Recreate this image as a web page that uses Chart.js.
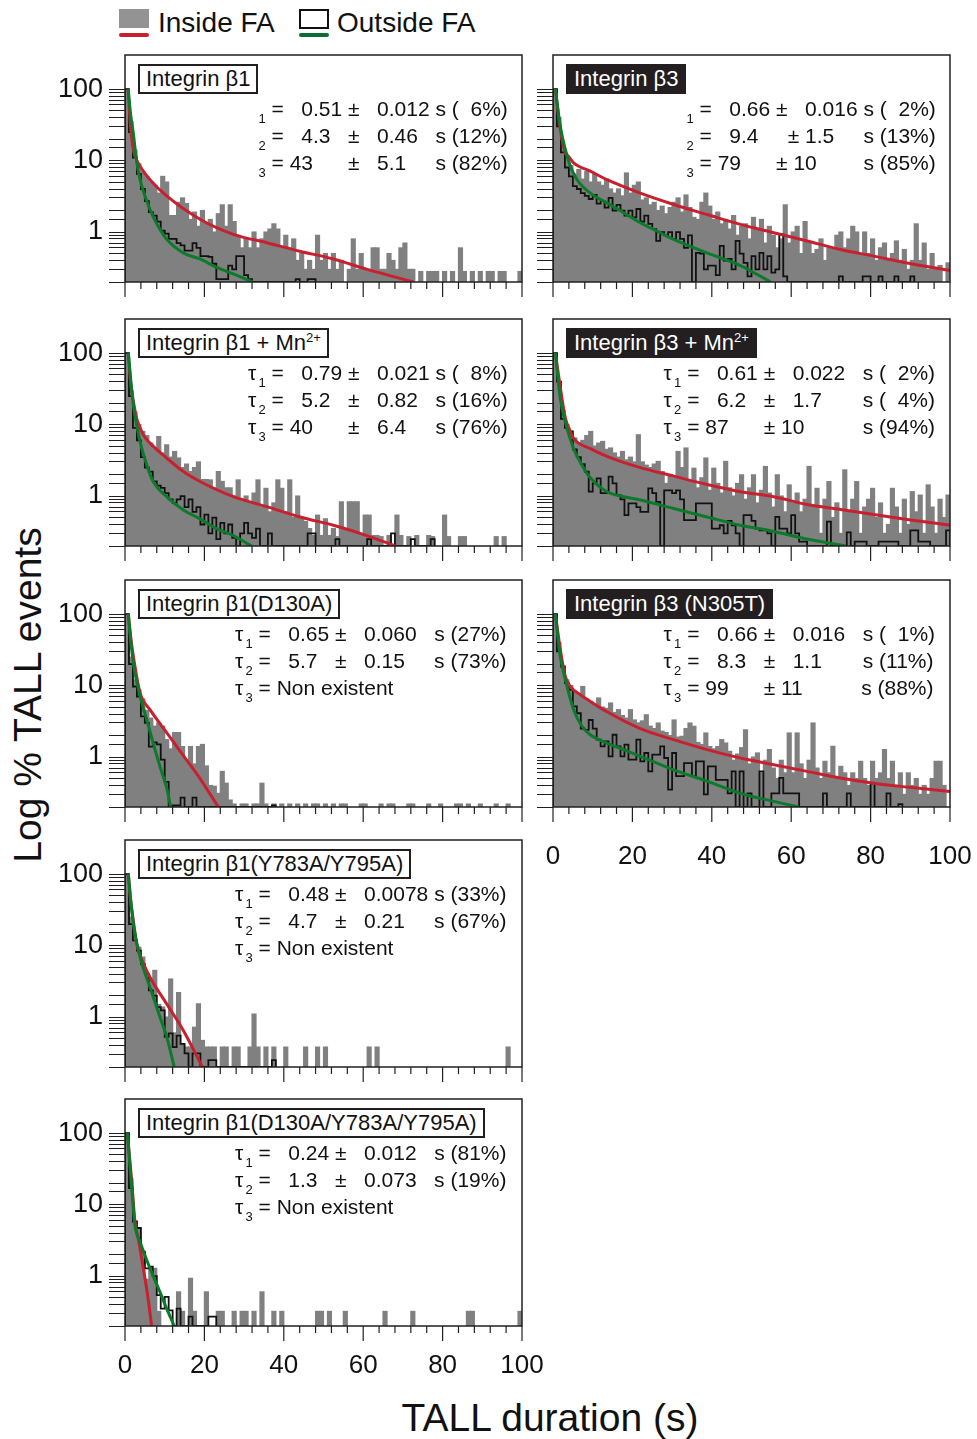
<!DOCTYPE html>
<html>
<head>
<meta charset="utf-8">
<title>TALL duration histograms</title>
<script src="https://cdn.jsdelivr.net/npm/chart.js@4.4.1/dist/chart.umd.min.js"></script>
<style>
  html, body { margin: 0; padding: 0; background: #fff; }
  body { position: relative; width: 977px; height: 1439px; overflow: hidden;
         font-family: Arial, "Liberation Sans", Helvetica, sans-serif; color: #111; }
  canvas { position: absolute; }
  .abs { position: absolute; white-space: nowrap; }
  .tag { position: absolute; box-sizing: border-box; height: 30px; padding: 0 6px;
         border: 2px solid #231f20; background: #fff; font-size: 22px; line-height: 26px; white-space: nowrap; }
  .tag.dark { background: #231f20; color: #fff; }
  .tag sup { font-size: 13px; vertical-align: 8px; line-height: 0; }
  .stats { position: absolute; font-size: 21px; line-height: 27px; white-space: pre; }
  .stats .tau { display: inline-block; width: 10.5px; }
  .stats sub { font-size: 13px; vertical-align: -7px; line-height: 0; }
</style>
</head>
<body>
<!-- legend -->
<div class="abs" style="left:119px;top:9px;width:30px;height:19px;background:#939393"></div>
<div class="abs" style="left:119px;top:33px;width:30px;height:4px;border-radius:2px;background:#c8202f"></div>
<div class="abs" style="left:158px;top:7px;font-size:28px;line-height:32px">Inside FA</div>
<div class="abs" style="left:299px;top:9px;width:30px;height:20px;box-sizing:border-box;border:2px solid #111"></div>
<div class="abs" style="left:299px;top:33px;width:30px;height:4px;border-radius:2px;background:#0a6e32"></div>
<div class="abs" style="left:337px;top:7px;font-size:28px;line-height:32px">Outside FA</div>
<!-- axis titles -->
<div class="abs" style="left:-172px;top:673px;width:400px;height:44px;line-height:44px;text-align:center;font-size:39px;transform:rotate(-90deg)">Log % TALL events</div>
<div class="abs" style="left:350px;top:1396px;width:400px;height:44px;line-height:44px;text-align:center;font-size:39px">TALL duration (s)</div>

<script>
// ---- values: % of events per 1 s bin (log axis), fits as [s, %] points ----
const yMin = 0.2, yMax = 300;

// Integrin β1
const b1In = [100,35,14,9,7,6,5,4.5,3.5,6, 5,1.7,1.7,2.6,3,2.5,1.5,1.9,1.2,2, 1.3,1.5,1,1.8,2.4,1.2,2.4,1.4,0.9,0.6,
  0.8,0.6,1,0.6,0.8,1,1.1,1.3,1.1,0.6, 0.9,0.6,0.8,0.4,0.5,0.3,0.4,0.3,0.9,0.4, 0.5,0.3,0.5,0.3,0.4,0,0.3,0.8,0.3,0.5,
  0.3,0.3,0.6,0.6,0.3,0.3,0.5,0.4,0.3,0.6, 0.7,0.3,0.3,0,0.28,0,0.28,0.28,0.28,0, 0.28,0,0.28,0,0.6,0.28,0,0.28,0,0.28,
  0,0.28,0.28,0,0.28,0.28,0,0,0,0.28];
const b1Out = [100,25,11,6.5,4,2.7,1.9,1.7,1.4,1.05, 0.95,0.8,0.8,0.7,0.65,0.55,0.55,0.7,0.6,0.46,
  0.46,0.45,0.36,0.22,0.22,0.22,0.34,0.3,0.46,0.46, 0.25,0.22,0,0,0,0,0,0,0,0, 0,0,0,0.22,0,0,0.22,0.22];
const b1FitIn = [[0.8,100],[1.4,30],[2.1,14.3],[2.9,10.3],[4,8],[6.3,5.4],[10.5,3.2],[19,1.5],[27.3,0.93],
  [35.7,0.71],[44,0.54],[52.5,0.42],[61,0.3],[72.7,0.2]];
const b1FitOut = [[0.8,100],[1.4,45],[2.1,24],[2.9,10],[3.8,5.4],[6.3,2.07],[8.8,1.09],[10.5,0.79],[14.7,0.51],
  [18.9,0.42],[23.1,0.32],[27.3,0.26],[32.2,0.2]];
const b1Stats = [' =   0.51 ±   0.012 s (  6%)', ' =   4.3   ±   0.46   s (12%)', ' = 43      ±   5.1     s (82%)'];

// Integrin β3
const b3In = [100,40,16,11,8.5,6.5,7.5,5.5,7,5, 6.5,5,4.5,5.5,4,3.5,4,3.2,6.7,3.5, 4.5,5,2.8,3,2.4,2.6,2,2.3,1.8,2.2,
  2.6,3,1.9,3.3,2.2,1.6,1.5,2.6,3.5,2.3, 1.5,1.9,1.3,1.5,1.1,1.7,0.9,1.2,1.3,0.8, 1.6,1.1,1.5,0.7,1.2,0.9,0.6,0.8,2.4,0.7,
  1,1.2,0.5,1.4,0.7,0.5,0.57,0.8,0.4,0.6, 0.57,0.9,1,0.6,0.8,1.2,1,0.5,1,0.5, 0.8,0.4,0.6,0.7,0.4,0.5,0.75,0.4,0.57,0.3,
  0.4,1.3,0.4,0.7,0.3,0.5,0.3,0.34,0,0.37];
const b3Out = [100,30,13,8,6,4.4,4,3.5,3.2,2.9, 3.3,2.5,2.7,2.2,3,2,2.4,2,1.7,2, 1.6,2.1,1.4,1.7,1.3,1.1,0.75,1,0.9,1,
  0.8,1,0.8,0.6,0.9,0,0.51,0.5,0.3,0.34, 0.34,0.25,0.64,0.4,0.42,0.3,0.75,0.5,0.37,0.24, 0.46,0.3,0.51,0.3,0.46,0.27,0.3,0.93,0.24,0,
  0,0,0,0,0,0,0,0,0,0, 0,0,0.24,0,0,0,0,0,0.24,0.24, 0,0,0.24,0,0,0,0.24,0,0,0, 0.24];
const b3FitIn = [[0.6,100],[1.85,27],[3.1,12.8],[3.9,11.5],[5.2,9.3],[9.4,7.1],[13.6,5.4],[22,3.5],[30.4,2.43],
  [38.8,1.76],[47.2,1.28],[55.6,0.98],[64,0.75],[72.4,0.57],[80.8,0.46],[89.2,0.37],[100,0.29]];
const b3FitOut = [[0.6,100],[1.85,30],[3.1,14.3],[4.4,8.3],[6.05,5.4],[9.4,3.5],[13.6,2.56],[17.8,1.86],[22,1.35],
  [26.2,1.03],[30.4,0.79],[38.8,0.51],[47.2,0.34],[54.8,0.2]];
const b3Stats = [' =   0.66 ±   0.016 s (  2%)', ' =   9.4     ± 1.5     s (13%)', ' = 79      ± 10        s (85%)'];

// Integrin β1 + Mn2+
const b1MnIn = [100,30,15,10,8,7,5.5,4.5,6.8,4, 5.2,3.5,4.2,3.4,2.5,2.8,2.2,2.5,3,1.7, 1.7,1.68,1.3,2.2,1.6,1.3,1.3,1,1.68,0.9,
  1,0.8,1.1,1.68,0.7,1.28,0.6,0.8,1.68,1.28, 0.6,1.68,0.5,1,0.5,0.44,0.35,0.28,0.54,0.28, 0.48,0.28,0.35,0.27,0.83,0.35,0.83,0.83,0.83,0.28,
  0.54,0.54,0.28,0.28,0.27,0,0.28,0,0.54,0.28, 0,0.27,0,0.28,0,0,0.28,0.27,0,0, 0.54,0.27,0,0,0.27,0.27,0,0,0,0,
  0,0,0,0.27,0,0.27];
const b1MnOut = [100,25,9,6,3.5,2.5,2.2,1.6,1.4,1.3, 1.1,0.9,0.8,0.9,1,0.7,0.9,0.6,0.7,0.4, 0.55,0.3,0.5,0.25,0.42,0.3,0.4,0.26,0,0.3,
  0.42,0.3,0.26,0.35,0,0,0.3,0,0,0, 0,0,0,0,0,0,0.3,0.3,0,0, 0,0,0,0.25,0,0,0,0,0,0,
  0,0.25,0,0,0,0,0,0.3,0,0, 0,0,0.25,0,0,0,0,0.25];
const b1MnFitIn = [[0.84,100],[1.4,40],[2.1,21.3],[2.9,12.4],[4.6,7.2],[6.3,5.5],[10.5,3.4],[14.7,2.2],[18.9,1.6],
  [27.3,0.98],[35.7,0.71],[44.1,0.51],[52.5,0.39],[60.9,0.28],[68.1,0.2]];
const b1MnFitOut = [[0.84,100],[1.4,45],[2.1,19],[3.8,5.8],[5.5,2.7],[7.1,1.6],[10.5,0.98],[14.7,0.64],[18.9,0.48],
  [23.1,0.35],[27.3,0.28],[31.9,0.2]];
const b1MnStats = [' =   0.79 ±   0.021 s (  8%)', ' =   5.2   ±   0.82   s (16%)', ' = 40      ±   6.4     s (76%)'];

// Integrin β3 + Mn2+
const b3MnIn = [100,40,16,10,8,6.5,5.5,6,7,8, 5,5.5,5.8,4.5,4.7,4,3.5,4.2,3.2,3.5, 3,7.2,3,2.7,2.5,2.8,3.05,2.2,1.5,2,
  1.8,4.2,2.5,4.7,1.6,2.45,1.3,1.8,3.4,1.2, 2.45,1.5,1.1,3.05,1.3,1,1.5,1.98,0.9,1.3, 1.98,0.8,1.2,2.59,1.1,0.7,1.98,1,0.6,1.43,
  0.8,1.1,0.6,0.9,2.59,0.7,1.28,0.3,0.9,1.59, 0.5,0.8,0.3,2.32,0.6,0.9,1.59,0.3,0.7,0.9, 1.28,0.5,0.8,0.3,0.4,1.28,0.7,0.3,0.9,0.4,
  1.15,0.6,1.03,0.3,1.43,0.7,0.3,0.9,0.5,1.03];
const b3MnOut = [100,40,12,9,8,4.5,3.5,2.8,2.2,1.15, 1.5,1.77,1.1,1.1,1.87,1.5,1.03,0.9,0.54,0.79, 0.79,0.7,0.6,0.6,1.28,1.1,0.83,0,1.2,1.2,
  1.1,1.2,0.9,0.46,0.46,0.46,0.79,0.79,0.79,0.79, 0.35,0.35,0.39,0.3,0.45,0.39,0.3,0,0.54,0.54, 0.45,0.35,0.33,0.33,0.3,0,0.51,0.35,0.35,0.3,
  0.54,0.3,0.23,0.23,0,0,0,0,0,0.44, 0,0,0,0,0.31,0,0.23,0.23,0.23,0, 0,0,0.23,0.23,0.23,0.23,0.23,0,0,0,
  0.33,0.33,0.23,0.23,0.23,0,0,0,0,0.33];
const b3MnFitIn = [[0.6,100],[1.85,33],[3.1,12.4],[4.4,8],[5.2,6.4],[9.4,4.6],[13.6,3.6],[22,2.5],[30.4,1.9],
  [38.8,1.45],[47.2,1.15],[55.6,0.98],[64,0.76],[72.4,0.65],[80.8,0.55],[89.2,0.47],[100,0.39]];
const b3MnFitOut = [[0.6,100],[1.85,23],[3.1,11],[5.2,4.6],[7.3,2.7],[9.4,1.8],[13.6,1.15],[17.8,0.98],[22,0.88],
  [30.4,0.67],[38.8,0.51],[47.2,0.39],[55.6,0.32],[64,0.25],[73.7,0.2]];
const b3MnStats = [' =   0.61 ±   0.022   s (  2%)', ' =   6.2   ±   1.7       s (  4%)', ' = 87      ± 10          s (94%)'];

// Integrin β1(D130A)
const b1DIn = [100,25,12,8.7,6.5,4.5,3.5,2.7,3,2.7, 1.75,1.3,2.2,2.2,1.4,0.9,1.4,0.8,1.4,1.5, 0.75,0.4,0.39,0.31,0.63,0.43,0.25,0.22,0,0.22,
  0.22,0,0.22,0.22,0.43,0.22,0,0.22,0,0.22, 0,0.22,0,0.22,0,0.22,0,0.22,0.22,0, 0.22,0,0.22,0,0.22,0.22,0,0,0,0.22,
  0.22,0,0,0,0.22,0,0.22,0.22,0,0, 0,0.22,0.22,0,0,0,0.22,0,0,0.22, 0,0,0,0.22,0.22,0,0.22,0,0,0.22,
  0,0,0,0.22,0,0,0.22];
const b1DOut = [100,20,9.7,7,3.7,3,1.4,1.6,1.5,0.92, 0.45,0.2,0.21,0.21,0.27,0,0,0.27,0,0,
  0,0,0,0,0,0,0,0,0,0, 0,0,0,0,0,0,0,0.21];
const b1DFitIn = [[0.84,100],[1.4,50],[2.1,25.7],[3.8,7.9],[6.3,4.6],[10.5,2.2],[14.7,1.05],[18.9,0.5],[23.5,0.2]];
const b1DFitOut = [[0.84,100],[1.4,45],[2.1,20.7],[3.8,7.1],[5.5,3.3],[7.1,1.57],[8.8,0.74],[10.5,0.37],[11.5,0.2]];
const b1DStats = [' =   0.65 ±   0.060   s (27%)', ' =   5.7   ±   0.15     s (73%)', ' = Non existent'];

// Integrin β3 (N305T)
const b3NIn = [100,40,16,12,10,8,7.5,9.7,6.5,6, 5.5,6.7,5,4.8,5.7,4.2,4.6,3.8,3.5,4.6, 3.3,3,3.2,3.9,2.7,2.5,2.99,2.3,2.2,2,
  3.3,1.9,1.95,2.5,2.99,2.69,1.6,1.5,2.17,1.4, 1.3,1.4,1.75,1.57,1.2,0.9,1.1,1.35,2.4,0.8, 1,1.14,0.6,0.9,1.27,0.7,0.5,0.9,0.6,2.17,
  0.6,2.17,0.8,0.5,0.9,2.99,0.7,0.5,0.87,0.6, 1.41,0.5,0.74,0.6,0.4,0.6,0.5,0.87,0.5,0.4, 0.87,0.5,0.6,1.27,0.5,0.87,0.4,0.6,0.3,0.6,
  0.4,0.5,0.3,0.4,0.3,0.5,0.87,0.87,0.4,0];
const b3NOut = [100,30,18.5,10.8,8.7,5.1,4.1,2.5,2.4,3.3, 2.5,1.75,1.41,1.65,1.02,2.05,1.41,1.02,1.49,0.92,
  0.92,1.75,0.87,1.14,0.63,1.08,1.08,1.41,0.97,0.35, 1.14,0.54,0.54,0.82,0.82,0.54,0.87,0.87,0.3,0.74,
  0.74,0.48,0.48,0.48,0.31,0.63,0,0.63,0,0.31, 0,0,0.63,0,0,0.31,0.31,0.51,0.31,0.31,
  0.31,0.31,0,0,0,0,0,0,0.31,0, 0,0,0,0,0.31,0,0,0,0,0, 0.43,0,0,0,0.31,0,0,0.22];
const b3NFitIn = [[0.6,100],[1.85,31.8],[3.1,13.4],[4.4,9.7],[6.9,7.4],[9.4,6],[13.6,4.3],[22,2.5],[30.4,1.75],
  [38.8,1.27],[47.2,0.97],[55.6,0.78],[64,0.63],[72.4,0.51],[80.8,0.43],[89.2,0.38],[100,0.33]];
const b3NFitOut = [[0.6,100],[1.85,25],[3.1,12.1],[5.2,4.6],[7.3,2.7],[9.4,2.05],[13.6,1.57],[17.8,1.27],[22,1.02],
  [26.2,0.82],[30.4,0.66],[38.8,0.46],[47.2,0.31],[55.6,0.24],[61.9,0.2]];
const b3NStats = [' =   0.66 ±   0.016   s (  1%)', ' =   8.3   ±   1.1       s (11%)', ' = 99      ± 11          s (88%)'];

// Integrin β1(Y783A/Y795A)
const b1YIn = [100,25,11.8,9.5,6.9,4,3.2,4.5,1.5,1.38, 1,3.4,0.6,2.2,0.42,0.38,0.38,0.72,1.53,0.47, 0.38,0.38,0.38,0,0.38,0.38,0,0.38,0.38,0,
  0,0.38,1.1,0.38,0,0.38,0,0.38,0,0, 0.38,0,0,0,0,0.38,0,0,0.38,0, 0.38,0,0,0,0,0,0,0,0,0,
  0,0.38,0,0.38,0,0,0,0,0,0, 0,0,0,0,0,0,0,0,0,0, 0,0,0,0,0,0,0,0,0,0, 0,0,0,0,0,0,0.38];
const b1YOut = [100,20,11.8,8.5,5.5,4,2.36,2,1.38,1.24, 0.53,0.59,0.38,0.55,0.42,0.31,0,0.31,0.31,0,
  0,0.25,0.25,0,0,0,0,0,0,0, 0,0,0,0,0,0,0,0.25];
const b1YFitIn = [[0.84,100],[1.4,45],[2.1,22.4],[2.94,10.6],[3.8,7.3],[6.3,3.6],[10.5,1.53],[14.7,0.65],[19.5,0.2]];
const b1YFitOut = [[0.84,100],[1.4,45],[2.1,20],[3.8,6.9],[6.3,2.6],[8.8,1],[10.5,0.53],[12.4,0.2]];
const b1YStats = [' =   0.48 ±   0.0078 s (33%)', ' =   4.7   ±   0.21     s (67%)', ' = Non existent'];

// Integrin β1(D130A/Y783A/Y795A)
const b1TIn = [100,23,5.8,4.7,2.2,0.9,1.28,1.28,0.32,0, 0,0,0,0.6,0.32,0,0.93,0.32,0,0, 0.6,0,0,0.32,0.32,0,0,0.32,0,0.32,
  0.32,0,0.32,0,0.6,0,0,0.32,0,0.32, 0,0,0,0,0,0,0,0,0.32,0.32, 0,0.32,0,0,0,0.32,0,0,0,0,
  0,0,0,0,0,0.32,0,0,0,0, 0,0,0.32,0,0,0,0,0,0,0, 0,0,0,0,0,0,0.32,0.32,0,0, 0,0,0,0,0,0,0,0,0,0.32];
const b1TOut = [100,17,5.8,4.7,2.2,1.28,1.35,1,0.54,0.35, 0.51,0.33,0,0.35,0,0,0.27,0,0,0, 0,0.27,0.27];
const b1TFitIn = [[0.6,100],[1.7,21],[2.5,5.8],[3.4,3.2],[4.6,1.3],[5.9,0.45],[6.7,0.2]];
const b1TFitOut = [[0.6,100],[1.7,17],[2.5,5.2],[3.8,3],[6.3,1.28],[8.8,0.6],[10.5,0.35],[12.4,0.2]];
const b1TStats = [' =   0.24 ±   0.012   s (81%)', ' =   1.3   ±   0.073   s (19%)', ' = Non existent'];

// ---- layout ----
const colLeft = [125, 553];
const rowTop = [55, 319, 580, 840, 1099];
const plotW = 397, plotH = 227;
const AXW = 90, PADT = 6, PADR = 30, AXH = 70;

const RED = '#c8202f', GREEN = '#0b7a2a', INK = '#231f20';

const panels = [
  { col: 0, row: 0, tag: 'Integrin β1', sup: '', dark: false, tau: false, sx: 123, inside: b1In, outside: b1Out, fitIn: b1FitIn, fitOut: b1FitOut, stats: b1Stats },
  { col: 1, row: 0, tag: 'Integrin β3', sup: '', dark: true, tau: false, sx: 123, inside: b3In, outside: b3Out, fitIn: b3FitIn, fitOut: b3FitOut, stats: b3Stats },
  { col: 0, row: 1, tag: 'Integrin β1 + Mn', sup: '2+', dark: false, tau: true, sx: 123, inside: b1MnIn, outside: b1MnOut, fitIn: b1MnFitIn, fitOut: b1MnFitOut, stats: b1MnStats },
  { col: 1, row: 1, tag: 'Integrin β3 + Mn', sup: '2+', dark: true, tau: true, sx: 110.6, inside: b3MnIn, outside: b3MnOut, fitIn: b3MnFitIn, fitOut: b3MnFitOut, stats: b3MnStats },
  { col: 0, row: 2, tag: 'Integrin β1(D130A)', sup: '', dark: false, tau: true, sx: 110, inside: b1DIn, outside: b1DOut, fitIn: b1DFitIn, fitOut: b1DFitOut, stats: b1DStats },
  { col: 1, row: 2, tag: 'Integrin β3 (N305T)', sup: '', dark: true, tau: true, sx: 110.6, inside: b3NIn, outside: b3NOut, fitIn: b3NFitIn, fitOut: b3NFitOut, stats: b3NStats, xLabels: 34 },
  { col: 0, row: 3, tag: 'Integrin β1(Y783A/Y795A)', sup: '', dark: false, tau: true, sx: 110, inside: b1YIn, outside: b1YOut, fitIn: b1YFitIn, fitOut: b1YFitOut, stats: b1YStats },
  { col: 0, row: 4, tag: 'Integrin β1(D130A/Y783A/Y795A)', sup: '', dark: false, tau: true, sx: 110, inside: b1TIn, outside: b1TOut, fitIn: b1TFitIn, fitOut: b1TFitOut, stats: b1TStats, xLabels: 24 }
];

Chart.defaults.font.family = 'Arial, "Liberation Sans", Helvetica, sans-serif';
Chart.defaults.color = '#111';

// frame round the plot + x ticks (long every 20 s, short every 4 s)
const framePlugin = {
  id: 'frame',
  afterDatasetsDraw(chart) {
    const { ctx, chartArea: a, scales: { x } } = chart;
    ctx.save();
    ctx.strokeStyle = INK;
    ctx.lineWidth = 1.5;
    ctx.strokeRect(a.left, a.top, a.right - a.left, a.bottom - a.top);
    ctx.lineWidth = 1.2;
    x.ticks.forEach(t => {
      const px = x.getPixelForValue(t.value);
      ctx.beginPath();
      ctx.moveTo(px, a.bottom);
      ctx.lineTo(px, a.bottom + (t.value % 20 === 0 ? 15 : 7));
      ctx.stroke();
    });
    ctx.restore();
  }
};

// histogram outline as a step line; empty bins drop to the axis
function outline(vals) {
  const pts = [{ x: 0, y: yMin }];
  vals.forEach((v, k) => pts.push({ x: k, y: v > 0 ? v : yMin }));
  const last = vals[vals.length - 1];
  pts.push({ x: vals.length, y: last > 0 ? last : yMin }, { x: vals.length, y: yMin });
  return pts;
}

function isDecade(v) {
  const l = Math.log10(v);
  return v >= 1 && v <= 100 && Math.abs(l - Math.round(l)) < 1e-6;
}

panels.forEach(p => {
  const left = colLeft[p.col], top = rowTop[p.row];
  const cv = document.createElement('canvas');
  cv.width = AXW + plotW + PADR;
  cv.height = PADT + plotH + AXH;
  cv.style.left = (left - AXW) + 'px';
  cv.style.top = (top - PADT) + 'px';
  document.body.appendChild(cv);

  const showY = p.col === 0;
  const showX = p.xLabels !== undefined;

  new Chart(cv.getContext('2d'), {
    type: 'line',
    data: {
      datasets: [
        { type: 'bar', data: p.inside.map((v, k) => ({ x: k + 0.5, y: v > 0 ? v : null })),
          backgroundColor: '#808080', borderWidth: 0, inflateAmount: 0.6,
          barPercentage: 1, categoryPercentage: 1, grouped: false, order: 4 },
        { data: outline(p.outside), borderColor: '#111', borderWidth: 1.8, pointRadius: 0, stepped: true, fill: false, order: 3 },
        { data: p.fitIn.map(d => ({ x: d[0], y: d[1] })), borderColor: RED, borderWidth: 3, pointRadius: 0,
          cubicInterpolationMode: 'monotone', fill: false, order: 2 },
        { data: p.fitOut.map(d => ({ x: d[0], y: d[1] })), borderColor: GREEN, borderWidth: 3, pointRadius: 0,
          cubicInterpolationMode: 'monotone', fill: false, order: 1 }
      ]
    },
    options: {
      responsive: false,
      animation: false,
      layout: { padding: { top: PADT, right: PADR, bottom: 0, left: 0 } },
      plugins: { legend: { display: false }, tooltip: { enabled: false } },
      scales: {
        x: {
          type: 'linear', min: 0, max: 100, offset: false,
          afterFit: s => { s.height = AXH; s.paddingLeft = 0; s.paddingRight = 0; },
          border: { display: false },
          grid: { display: false, drawTicks: false },
          ticks: { stepSize: 4, autoSkip: false, maxRotation: 0, padding: showX ? p.xLabels : 0,
                   font: { size: 26 }, callback: v => (showX && v % 20 === 0 ? String(v) : '') }
        },
        y: {
          type: 'logarithmic', min: yMin, max: yMax,
          afterFit: s => { s.width = AXW; s.paddingTop = 0; s.paddingBottom = 0; },
          border: { display: false },
          grid: { drawOnChartArea: false, drawTicks: true, tickLength: 16, tickWidth: 1,
                  tickColor: c => (c.tick && c.tick.value > 100.5 ? 'rgba(0,0,0,0)' : INK) },
          ticks: { autoSkip: false, padding: 6, font: { size: 27 },
                   callback: v => (showY && isDecade(v) ? String(Math.round(v)) : '') }
        }
      }
    },
    plugins: [framePlugin]
  });

  // label box
  const tag = document.createElement('div');
  tag.className = 'tag' + (p.dark ? ' dark' : '');
  tag.style.left = (left + 13) + 'px';
  tag.style.top = (top + 9) + 'px';
  tag.textContent = p.tag;
  if (p.sup) {
    const s = document.createElement('sup');
    s.textContent = p.sup;
    tag.appendChild(s);
  }
  document.body.appendChild(tag);

  // fitted time constants
  const st = document.createElement('div');
  st.className = 'stats';
  st.style.left = (left + p.sx) + 'px';
  st.style.top = (top + 39.5) + 'px';
  p.stats.forEach((line, i) => {
    const row = document.createElement('div');
    const t = document.createElement('span');
    t.className = 'tau';
    t.textContent = p.tau ? 'τ' : '';
    const sub = document.createElement('sub');
    sub.textContent = String(i + 1);
    row.appendChild(t);
    row.appendChild(sub);
    row.appendChild(document.createTextNode(line));
    st.appendChild(row);
  });
  document.body.appendChild(st);
});
</script>
</body>
</html>
